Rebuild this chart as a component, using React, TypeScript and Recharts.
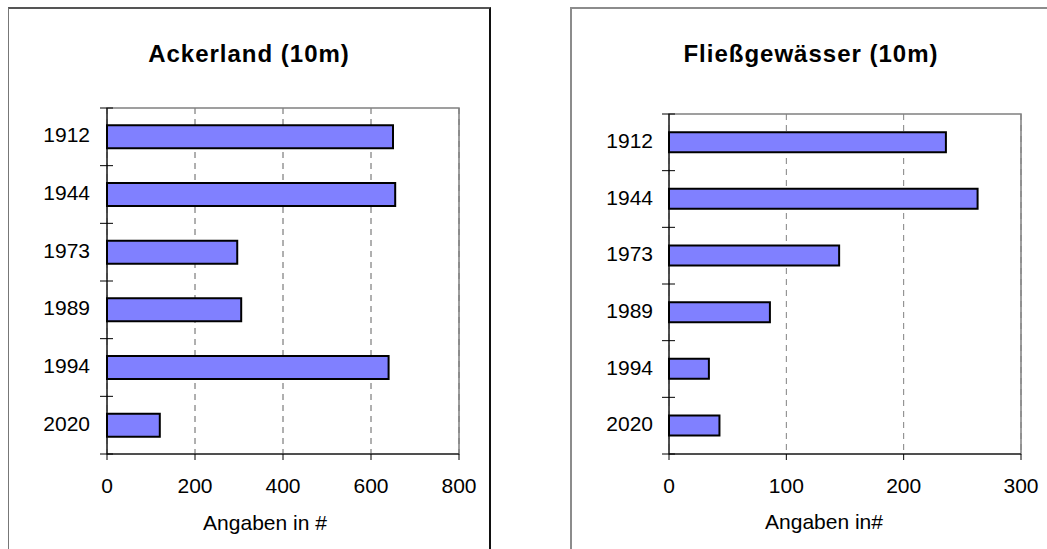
import React from 'react';
import { BarChart, Bar, XAxis, YAxis, CartesianGrid, ReferenceArea } from 'recharts';

// Survey years shown on the category axis
const years = ['1912', '1944', '1973', '1989', '1994', '2020'];

// Counts per year (Angaben in #)
const ackerlandCounts = [650, 655, 296, 305, 640, 120];
const fliessCounts = [236, 263, 145, 86, 34, 43];

// Value-axis tick labels
const ackerlandTicks = [0, 200, 400, 600, 800];
const fliessTicks = [0, 100, 200, 300];

const FONT = '"Liberation Sans", Arial, sans-serif';
const TICK_SIZE = 7;

type Row = { year: string; count: number };

const toRows = (values: number[]): Row[] => years.map((year, i) => ({ year, count: values[i] }));

type TickProps = {
  x: number;
  y: number;
  index: number;
  payload: { value: string };
  band: number;
  gap: number;
  count: number;
};

// Year label at the band centre, with crossing tick marks on the band boundaries
function YearTick({ x, y, index, payload, band, gap, count }: TickProps) {
  const axisX = x + gap;
  const half = band / 2;
  return (
    <g>
      <line x1={axisX - TICK_SIZE} x2={axisX + 6} y1={y - half} y2={y - half} stroke="#000" strokeWidth={1} />
      {index === count - 1 && (
        <line x1={axisX - TICK_SIZE} x2={axisX + 6} y1={y + half} y2={y + half} stroke="#000" strokeWidth={1} />
      )}
      <text x={x} y={y} dy={5.5} textAnchor="end" fontSize={21} fontFamily={FONT} fill="#000">
        {payload.value}
      </text>
    </g>
  );
}

type PanelProps = {
  values: number[];
  ticks: number[];
  left: number;
  width: number;
  height: number;
  margin: { top: number; right: number; bottom: number; left: number };
  categoryGap: string;
  labelGap: number;
  gridStroke: string;
};

function Panel({ values, ticks, left, width, height, margin, categoryGap, labelGap, gridStroke }: PanelProps) {
  const data = toRows(values);
  const max = ticks[ticks.length - 1];
  const yAxisWidth = 60;
  const xAxisHeight = 30;
  const plotHeight = height - margin.top - margin.bottom - xAxisHeight;
  const band = plotHeight / years.length;
  return (
    <div style={{ position: 'absolute', left, top: 0 }}>
      <BarChart
        width={width}
        height={height}
        data={data}
        layout="vertical"
        margin={margin}
        barCategoryGap={categoryGap}
      >
        <CartesianGrid horizontal={false} stroke={gridStroke} strokeDasharray="6 5" />
        {/* plot-area border (top and right edges remain visible) */}
        <ReferenceArea x1={0} x2={max} fill="none" stroke="#808080" strokeWidth={1.5} />
        <XAxis
          type="number"
          domain={[0, max]}
          ticks={ticks}
          interval={0}
          height={xAxisHeight}
          tickSize={6}
          tickMargin={18}
          axisLine={{ stroke: '#000' }}
          tickLine={{ stroke: '#000' }}
          tick={{ fontSize: 21, fontFamily: FONT, fill: '#000' }}
        />
        <YAxis
          type="category"
          dataKey="year"
          width={yAxisWidth}
          tickSize={TICK_SIZE}
          tickMargin={labelGap - TICK_SIZE}
          tickLine={false}
          axisLine={{ stroke: '#000' }}
          interval={0}
          tick={(p: any) => (
            <YearTick {...p} band={band} gap={labelGap} count={years.length} />
          )}
        />
        <Bar dataKey="count" fill="#8080FF" stroke="#000" strokeWidth={2} isAnimationActive={false} />
      </BarChart>
    </div>
  );
}

export default function App() {
  return (
    <div
      style={{
        position: 'fixed',
        left: 0,
        top: 0,
        width: 1047,
        height: 549,
        overflow: 'hidden',
        background: '#fff',
        fontFamily: FONT,
      }}
    >
      {/* chart frames */}
      <div
        style={{
          position: 'absolute',
          left: 8,
          top: 7,
          width: 480,
          height: 600,
          borderTop: '2px solid #555',
          borderLeft: '1px solid #777',
          borderRight: '2px solid #111',
        }}
      />
      <div
        style={{
          position: 'absolute',
          left: 570,
          top: 7,
          width: 600,
          height: 600,
          borderTop: '2px solid #8c8c8c',
          borderLeft: '2px solid #8c8c8c',
        }}
      />

      <Panel
        values={ackerlandCounts}
        ticks={ackerlandTicks}
        left={0}
        width={500}
        height={549}
        margin={{ top: 108, right: 41, bottom: 65, left: 47 }}
        categoryGap="30%"
        labelGap={17}
        gridStroke="#606060"
      />
      <Panel
        values={fliessCounts}
        ticks={fliessTicks}
        left={571}
        width={476}
        height={549}
        margin={{ top: 114, right: 26, bottom: 65, left: 38 }}
        categoryGap="32%"
        labelGap={16}
        gridStroke="#808080"
      />

      {/* titles */}
      <svg
        width={1047}
        height={549}
        style={{ position: 'absolute', left: 0, top: 0, pointerEvents: 'none' }}
      >
        <text x={249} y={62} textAnchor="middle" fontSize={24} fontWeight="bold" letterSpacing={1} fontFamily={FONT} fill="#000">
          Ackerland (10m)
        </text>
        <text x={811} y={62} textAnchor="middle" fontSize={24} fontWeight="bold" letterSpacing={1} fontFamily={FONT} fill="#000">
          Fließgewässer (10m)
        </text>
        <text x={265} y={530} textAnchor="middle" fontSize={21} fontFamily={FONT} fill="#000">
          Angaben in #
        </text>
        <text x={824} y={529} textAnchor="middle" fontSize={21} fontFamily={FONT} fill="#000">
          Angaben in#
        </text>
      </svg>
    </div>
  );
}
